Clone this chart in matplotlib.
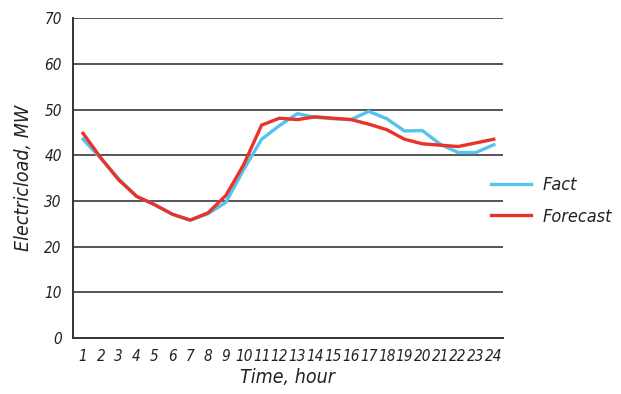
import numpy as np
import matplotlib.pyplot as plt

plt.rcParams['font.family'] = ['DejaVu Sans']
plt.rcParams['font.stretch'] = 'condensed'

# hourly electric load, MW
hours = list(range(1, 25))
fact = [43.5, 39.3, 34.8, 31.0, 29.2, 27.1, 25.8, 27.2, 29.7, 36.9, 43.5, 46.5,
        49.1, 48.3, 48.0, 47.8, 49.6, 48.0, 45.3, 45.4, 42.4, 40.6, 40.6, 42.3]
forecast = [44.8, 39.4, 34.6, 31.0, 29.2, 27.1, 25.8, 27.4, 31.2, 38.0, 46.6, 48.1,
            47.8, 48.4, 48.1, 47.8, 46.8, 45.6, 43.5, 42.5, 42.2, 41.9, 42.7, 43.5]
yticks = [0, 10, 20, 30, 40, 50, 60, 70]

fig = plt.figure(figsize=(6.21, 3.94), dpi=100)
ax = fig.add_axes([0.1176, 0.142, 0.692, 0.812])

# gridlines
for v in yticks[1:]:
    ax.axhline(v, color='#555555', lw=1.4, zorder=1)

ax.plot(hours, fact, color='#55c3ee', lw=2.4, label='Fact', zorder=3)
ax.plot(hours, forecast, color='#e8332a', lw=2.4, label='Forecast', zorder=4)

ax.set_xlim(0.44, 24.5)
ax.set_ylim(0, 70)
ax.set_xticks(hours)
ax.set_yticks(yticks)
ax.tick_params(length=0, labelsize=11, labelcolor='#222222', pad=8)
for lab in ax.get_xticklabels() + ax.get_yticklabels():
    lab.set_style('italic')

for s in ['top', 'right']:
    ax.spines[s].set_visible(False)
for s in ['left', 'bottom']:
    ax.spines[s].set_color('#333333')
    ax.spines[s].set_linewidth(1.4)

ax.set_xlabel('Time, hour', style='italic', fontsize=14, color='#222222', labelpad=3)
ax.set_ylabel('Electricload, MW', style='italic', fontsize=14, color='#222222', labelpad=8)

leg = fig.legend(loc='center left', bbox_to_anchor=(0.765, 0.49), frameon=False,
                 fontsize=13, handlelength=2.2, handletextpad=0.65, labelspacing=0.75)
for t in leg.get_texts():
    t.set_style('italic')
    t.set_color('#222222')

fig.savefig('out.png', dpi=100)
